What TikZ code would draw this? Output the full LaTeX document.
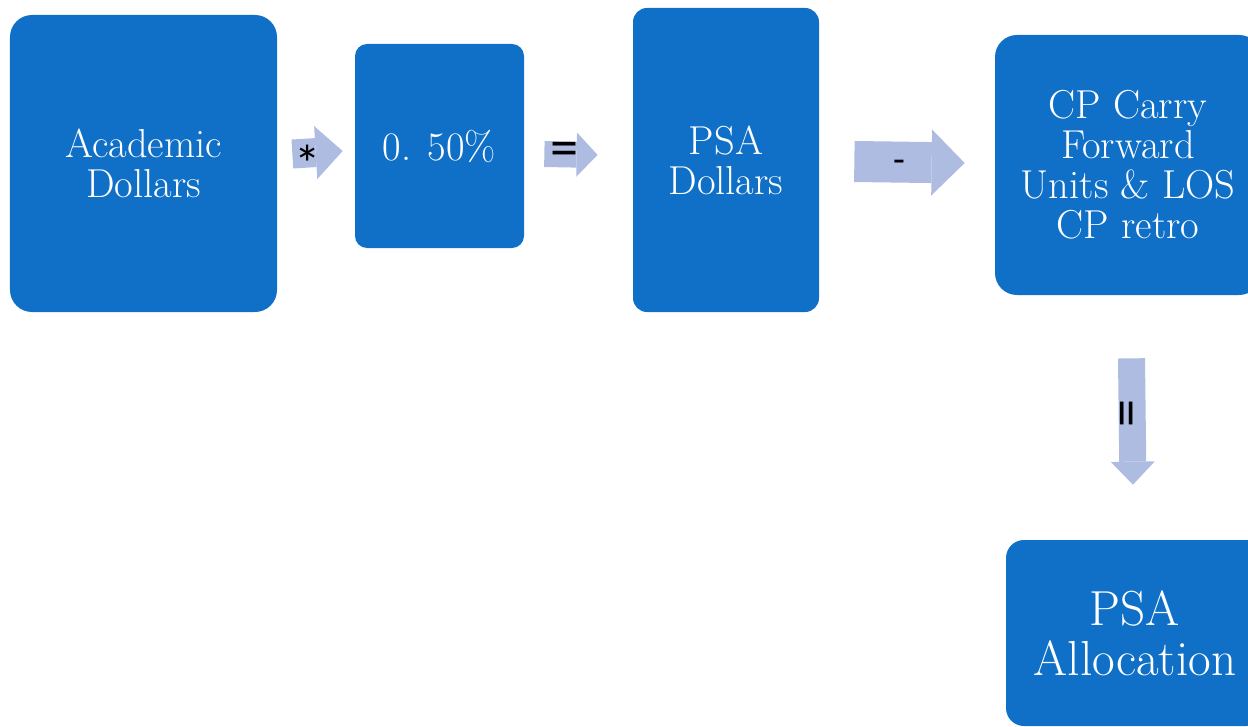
\documentclass[tikz,border=0pt]{standalone}
\usepackage{fontspec}
\newfontfamily\labelfont{Carlito}
\usetikzlibrary{calc, arrows.meta, positioning}
\definecolor{boxblue}{RGB}{16,112,199}
\definecolor{arrowblue}{RGB}{174,188,226}

\begin{document}
\begin{tikzpicture}[
    x=0.2mm, y=-0.2mm,
    main node/.style={rectangle, rounded corners=4.4mm, fill=boxblue, text=white, align=center, inner sep=0pt, font=\fontsize{23}{22.7}\selectfont},
    block arrow/.style n args={3}{line width=#1, arrowblue, -{Triangle[length=#2, width=#3, line width=0pt]}},
    label node/.style={text=black, inner sep=0pt, font=\labelfont\fontsize{22}{22}\selectfont}
]
\path[use as bounding box, clip] (0,0) rectangle (1248,727);

% Main Nodes
\node[main node, minimum width=53.4mm, minimum height=59.4mm] (acad) at (143.5,163.5) {Academic\\Dollars};
\node[main node, minimum width=33.8mm, minimum height=40.8mm, rounded corners=2.4mm] (pct) at (439.5,146) {0. 50\%};
\node[main node, minimum width=37.2mm, minimum height=60.8mm, rounded corners=2.8mm] (psa) at (726,160) {PSA\\Dollars};
\node[main node, minimum width=53.2mm, minimum height=52mm] (cp) at (1128,165) {CP Carry\\Forward\\Units \& LOS\\CP retro};
\node[main node, minimum width=51.6mm, minimum height=37.2mm, rounded corners=3.6mm, font=\fontsize{28}{28.4}\selectfont] (alloc) at (1135,633) {PSA\\Allocation};

% Horizontal arrows
\draw[block arrow={5.8mm}{5.4mm}{10.6mm}] ($(acad.east)+(15,-9.5)$) -- node[label node, pos=0.31, yshift=-2.2mm, font=\labelfont\fontsize{30}{30}\selectfont] {*} ($(pct.west)+(-12,5)$);
\draw[block arrow={5.2mm}{4.2mm}{8.8mm}] ($(pct.east)+(20,8)$) -- node[label node, pos=0.37, font=\labelfont\fontsize{32}{32}\selectfont] {=} ($(psa.west)+(-35,-5)$);
\draw[block arrow={8.2mm}{6.6mm}{13.2mm}] ($(psa.east)+(35,1.5)$) -- node[label node, pos=0.41, yshift=-0.8mm] {-} ($(cp.west)+(-30,-2)$);

% Vertical arrow
\draw[block arrow={5.4mm}{4.6mm}{8.8mm}] ($(cp.south)+(3.5,63)$) -- node[label node, pos=0.44, rotate=90, font=\labelfont\fontsize{32}{32}\selectfont] {=} ($(alloc.north)+(-2,-55)$);
\end{tikzpicture}
\end{document}
